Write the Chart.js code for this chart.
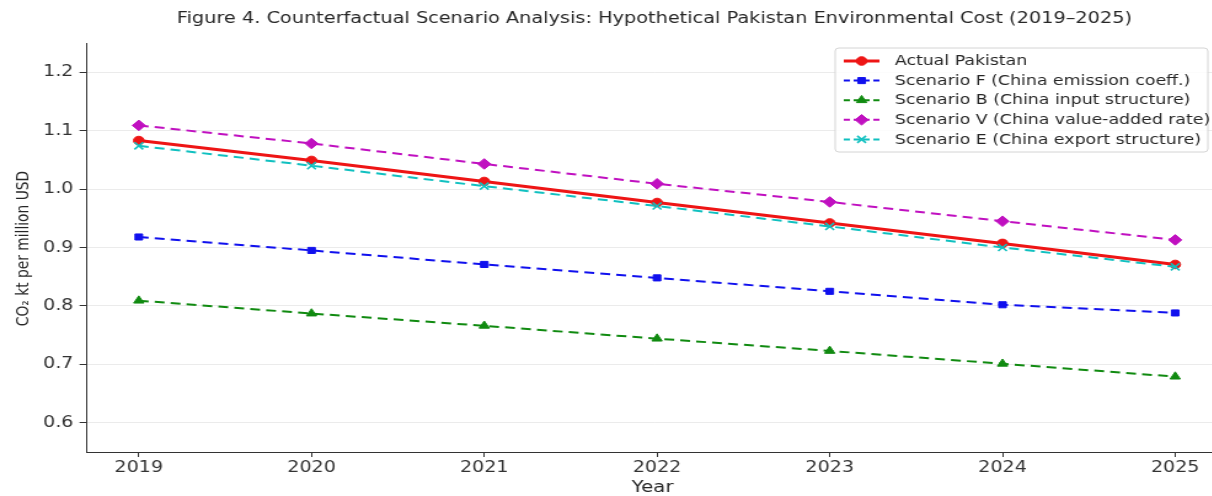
<!DOCTYPE html>
<html>
<head>
<meta charset="utf-8">
<script src="https://cdn.jsdelivr.net/npm/chart.js@4.4.1/dist/chart.umd.min.js"></script>
<style>
  html, body { margin: 0; padding: 0; background: #ffffff; overflow: hidden; }
  #wrap { width: 1212px; height: 496px; overflow: hidden; position: relative; }
  #chart { display: block; transform: scaleX(1.23); transform-origin: 0 0; }
</style>
</head>
<body>
<div id="wrap"><canvas id="chart" width="1000" height="496"></canvas></div>
<script>
// Years on the horizontal axis
const years = [2019, 2020, 2021, 2022, 2023, 2024, 2025];

// CO2 intensity (kt per million USD) for each series
const actualPakistan = [1.083, 1.049, 1.013, 0.977, 0.942, 0.907, 0.871];
const scenarioF      = [0.918, 0.895, 0.871, 0.848, 0.825, 0.802, 0.788];
const scenarioB      = [0.809, 0.787, 0.766, 0.744, 0.723, 0.701, 0.679];
const scenarioV      = [1.109, 1.078, 1.043, 1.009, 0.978, 0.945, 0.913];
const scenarioE      = [1.074, 1.040, 1.005, 0.971, 0.936, 0.900, 0.867];

// Axis tick values
const yTicks = [0.6, 0.7, 0.8, 0.9, 1.0, 1.1, 1.2];
const xTicks = years;

const titleText = 'Figure 4. Counterfactual Scenario Analysis: Hypothetical Pakistan Environmental Cost (2019\u20132025)';
const yAxisLabel = 'CO\u2082 kt per million USD';
const xAxisLabel = 'Year';

const FONT = '"DejaVu Sans", sans-serif';

function pts(values) {
  return years.map((y, i) => ({ x: y, y: values[i] }));
}

const series = [
  { label: 'Actual Pakistan', values: actualPakistan, color: '#ee1515', dash: [], width: 3, style: 'circle', radius: 4.3, order: 5 },
  { label: 'Scenario F (China emission coeff.)', values: scenarioF, color: '#1010ee', dash: [8, 5], width: 2, style: 'rect', radius: 4.3, order: 4 },
  { label: 'Scenario B (China input structure)', values: scenarioB, color: '#108a10', dash: [8, 5], width: 2, style: 'triangle', radius: 4.8, order: 3 },
  { label: 'Scenario V (China value-added rate)', values: scenarioV, color: '#c010c0', dash: [8, 5], width: 2, style: 'rectRot', radius: 5.3, order: 2 },
  { label: 'Scenario E (China export structure)', values: scenarioE, color: '#10c0c0', dash: [8, 5], width: 2, style: 'crossRot', radius: 5, order: 1 }
];

// Title, axis titles and the framed legend drawn on top of the chart
const decorations = {
  id: 'decorations',
  afterDraw(chart) {
    const ctx = chart.ctx;
    const area = chart.chartArea;
    ctx.save();
    ctx.fillStyle = '#262626';
    ctx.textAlign = 'center';
    ctx.textBaseline = 'middle';
    ctx.font = '15.7px ' + FONT;
    ctx.fillText(titleText, (area.left + area.right) / 2, 19);

    ctx.font = '16px ' + FONT;
    ctx.fillText(xAxisLabel, (area.left + area.right) / 2 - 1.5, 487.5);

    ctx.save();
    ctx.translate(19.5, (area.top + area.bottom) / 2 + 1);
    ctx.rotate(-Math.PI / 2);
    ctx.font = '13.8px ' + FONT;
    ctx.fillText(yAxisLabel, 0, 0);
    ctx.restore();

    // legend box
    const bx = 679, by = 48, bw = 303, bh = 104, r = 3;
    ctx.beginPath();
    ctx.moveTo(bx + r, by);
    ctx.lineTo(bx + bw - r, by);
    ctx.quadraticCurveTo(bx + bw, by, bx + bw, by + r);
    ctx.lineTo(bx + bw, by + bh - r);
    ctx.quadraticCurveTo(bx + bw, by + bh, bx + bw - r, by + bh);
    ctx.lineTo(bx + r, by + bh);
    ctx.quadraticCurveTo(bx, by + bh, bx, by + bh - r);
    ctx.lineTo(bx, by + r);
    ctx.quadraticCurveTo(bx, by, bx + r, by);
    ctx.closePath();
    ctx.fillStyle = 'rgba(255,255,255,0.85)';
    ctx.fill();
    ctx.strokeStyle = '#d4d4d4';
    ctx.lineWidth = 1;
    ctx.stroke();

    ctx.textAlign = 'left';
    ctx.font = '14.1px ' + FONT;
    series.forEach((s, i) => {
      const yy = 61 + i * 19.6;
      ctx.save();
      ctx.strokeStyle = s.color;
      ctx.lineWidth = s.width;
      ctx.setLineDash(s.dash.length ? [5, 3] : []);
      ctx.beginPath();
      ctx.moveTo(686, yy);
      ctx.lineTo(715, yy);
      ctx.stroke();
      ctx.setLineDash([]);
      ctx.fillStyle = s.color;
      ctx.strokeStyle = s.color;
      ctx.lineWidth = s.style === 'crossRot' ? 1.6 : 1;
      Chart.helpers.drawPoint(ctx, { pointStyle: s.style, radius: s.radius, rotation: 0, borderWidth: ctx.lineWidth }, 700.5, yy);
      ctx.restore();
      ctx.fillStyle = '#262626';
      ctx.fillText(s.label, 727.5, yy + 0.5);
    });
    ctx.restore();
  }
};

new Chart(document.getElementById('chart'), {
  type: 'line',
  data: {
    datasets: series.map(s => ({
      label: s.label,
      data: pts(s.values),
      borderColor: s.color,
      backgroundColor: s.color,
      borderWidth: s.width,
      borderDash: s.dash,
      pointStyle: s.style,
      pointRadius: s.radius,
      pointBorderWidth: s.style === 'crossRot' ? 1.6 : 1,
      pointBackgroundColor: s.color,
      pointBorderColor: s.color,
      tension: 0,
      fill: false,
      order: s.order
    }))
  },
  options: {
    responsive: false,
    devicePixelRatio: 1,
    animation: false,
    layout: { padding: { top: 43, right: 1, left: 0, bottom: 0 } },
    plugins: {
      legend: { display: false },
      title: { display: false },
      tooltip: { enabled: false }
    },
    scales: {
      x: {
        type: 'linear',
        min: 2018.7,
        max: 2025.27,
        afterBuildTicks(scale) { scale.ticks = xTicks.map(v => ({ value: v })); },
        afterFit(scale) { scale.height = 44; },
        grid: { drawOnChartArea: false, drawTicks: true, tickLength: 5, tickColor: '#333333', tickWidth: 1 },
        border: { display: true, color: '#333333', width: 1 },
        ticks: {
          padding: 2,
          color: '#333333',
          font: { family: FONT, size: 15.5 },
          maxRotation: 0,
          callback: v => String(v)
        }
      },
      y: {
        type: 'linear',
        min: 0.55,
        max: 1.25,
        afterBuildTicks(scale) { scale.ticks = yTicks.map(v => ({ value: v })); },
        afterFit(scale) { scale.width = 70.7; },
        grid: { color: '#ebebeb', lineWidth: 1, drawTicks: true, tickLength: 6, tickColor: '#333333', tickWidth: 1 },
        border: { display: true, color: '#333333', width: 1 },
        ticks: {
          padding: 5,
          color: '#333333',
          font: { family: FONT, size: 15.5 },
          callback: v => v.toFixed(1)
        }
      }
    }
  },
  plugins: [decorations]
});
</script>
</body>
</html>
